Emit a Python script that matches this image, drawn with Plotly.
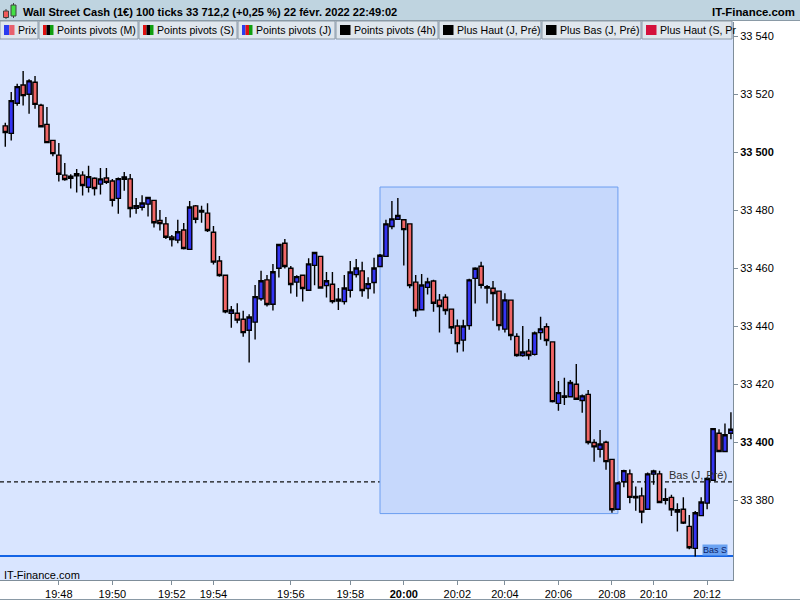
import plotly.graph_objects as go

# ==== candles, 100 ticks each ====
opens = [33509.1, 33506.5, 33516.9, 33523.2, 33520.0, 33524.1, 33516.2, 33509.6, 33504.1, 33499.0,
         33492.1, 33491.0, 33491.9, 33492.1, 33487.9, 33491.0, 33489.0, 33491.1, 33490.1, 33484.1,
         33490.7, 33490.8, 33480.7, 33481.0, 33482.1, 33483.4, 33476.5, 33475.3, 33470.8, 33469.7,
         33473.2, 33466.5, 33481.5, 33479.4, 33479.0, 33472.4, 33462.5, 33457.6, 33444.5, 33444.5,
         33442.4, 33438.6, 33441.4, 33449.5, 33456.0, 33447.6, 33460.0, 33468.6, 33460.0, 33455.2,
         33457.6, 33452.4, 33461.0, 33464.1, 33454.0, 33454.5, 33448.7, 33448.5, 33452.4, 33457.8,
         33459.1, 33453.0, 33455.1, 33460.6, 33464.1, 33474.4, 33476.9, 33476.7, 33475.3, 33455.2,
         33445.7, 33453.4, 33455.6, 33449.0, 33450.0, 33445.9, 33440.1, 33435.2, 33440.2, 33456.5,
         33460.7, 33453.6, 33453.1, 33452.1, 33439.0, 33449.0, 33436.5, 33429.9, 33431.4, 33430.3,
         33437.8, 33439.8, 33434.6, 33413.4, 33415.5, 33415.7, 33420.0, 33414.4, 33416.5, 33399.9,
         33397.6, 33400.0, 33394.1, 33376.9, 33386.4, 33389.1, 33381.3, 33381.5, 33376.9, 33389.0,
         33389.1, 33380.0, 33381.0, 33375.9, 33376.9, 33371.0, 33363.4, 33374.7, 33379.0, 33386.9,
         33403.1, 33396.8, 33403.1]
highs = [33510.2, 33520.8, 33523.6, 33528.0, 33525.2, 33526.3, 33516.7, 33515.6, 33504.2, 33503.2,
         33496.3, 33492.4, 33494.2, 33493.4, 33495.3, 33491.4, 33494.6, 33494.6, 33490.8, 33491.3,
         33493.2, 33492.5, 33484.2, 33485.2, 33484.6, 33483.4, 33480.1, 33477.7, 33471.5, 33476.7,
         33475.6, 33483.2, 33481.8, 33481.5, 33482.4, 33474.6, 33464.2, 33457.6, 33447.0, 33447.9,
         33445.3, 33444.1, 33454.2, 33459.1, 33457.7, 33461.5, 33468.4, 33470.1, 33460.8, 33457.6,
         33457.8, 33463.4, 33465.6, 33464.2, 33458.7, 33458.7, 33453.2, 33457.7, 33462.5, 33463.2,
         33462.2, 33456.9, 33463.6, 33464.9, 33476.7, 33483.2, 33484.2, 33476.9, 33475.3, 33457.7,
         33458.0, 33456.7, 33456.0, 33451.1, 33451.0, 33445.9, 33442.3, 33442.2, 33456.4, 33460.3,
         33462.2, 33454.2, 33455.6, 33452.1, 33451.4, 33449.0, 33437.6, 33440.1, 33435.6, 33438.2,
         33443.3, 33441.0, 33434.6, 33421.1, 33422.2, 33421.5, 33427.0, 33416.5, 33418.0, 33401.0,
         33404.2, 33400.5, 33394.1, 33386.3, 33390.5, 33390.6, 33384.7, 33384.4, 33389.6, 33390.5,
         33390.2, 33384.1, 33381.9, 33379.0, 33381.0, 33374.9, 33376.3, 33381.0, 33387.9, 33404.9,
         33404.5, 33406.5, 33410.3]
lows = [33501.9, 33504.0, 33516.0, 33516.1, 33513.3, 33515.0, 33508.5, 33503.1, 33498.6, 33489.9,
        33490.2, 33487.5, 33486.1, 33485.1, 33486.1, 33485.1, 33485.4, 33489.0, 33481.3, 33478.8,
        33486.7, 33477.5, 33478.8, 33479.9, 33477.8, 33474.0, 33473.0, 33470.1, 33467.5, 33468.6,
        33466.5, 33466.3, 33475.5, 33475.7, 33472.5, 33461.3, 33457.1, 33444.5, 33439.5, 33441.0,
        33436.4, 33427.5, 33435.4, 33448.8, 33446.8, 33445.4, 33456.8, 33459.9, 33451.3, 33450.2,
        33448.5, 33452.3, 33454.1, 33452.9, 33449.9, 33447.8, 33445.6, 33447.5, 33449.9, 33456.8,
        33450.2, 33449.5, 33451.3, 33460.6, 33464.0, 33473.4, 33476.9, 33460.9, 33453.1, 33443.3,
        33445.7, 33450.9, 33445.0, 33437.8, 33444.0, 33437.3, 33430.9, 33431.3, 33438.8, 33447.8,
        33453.0, 33447.8, 33441.9, 33438.5, 33437.8, 33435.2, 33429.5, 33429.5, 33428.4, 33429.9,
        33435.3, 33433.3, 33413.7, 33410.9, 33412.8, 33415.5, 33414.6, 33410.2, 33399.2, 33393.3,
        33394.7, 33390.5, 33375.7, 33376.9, 33384.5, 33379.0, 33376.4, 33372.1, 33376.9, 33385.3,
        33379.0, 33378.5, 33374.6, 33369.2, 33371.8, 33363.1, 33360.6, 33374.7, 33376.9, 33386.9,
        33396.8, 33396.8, 33401.0]
closes = [33506.8, 33517.8, 33522.6, 33519.5, 33524.6, 33516.5, 33508.8, 33503.3, 33499.5, 33492.4,
          33490.6, 33491.7, 33492.6, 33488.5, 33491.6, 33487.5, 33490.8, 33489.6, 33483.4, 33490.9,
          33491.5, 33480.6, 33481.6, 33482.5, 33484.4, 33475.7, 33475.4, 33470.7, 33469.9, 33472.6,
          33466.8, 33481.1, 33476.9, 33479.9, 33473.0, 33462.1, 33457.5, 33445.0, 33445.6, 33442.1,
          33437.8, 33443.2, 33450.2, 33455.7, 33447.5, 33458.8, 33468.2, 33460.6, 33454.4, 33457.1,
          33453.0, 33461.5, 33465.4, 33453.2, 33455.7, 33448.5, 33449.3, 33453.2, 33458.7, 33460.1,
          33452.3, 33454.7, 33460.1, 33464.5, 33475.3, 33477.0, 33478.2, 33473.3, 33454.0, 33445.4,
          33454.2, 33455.3, 33447.9, 33446.8, 33445.4, 33439.5, 33434.0, 33440.1, 33456.0, 33460.0,
          33454.1, 33453.2, 33451.3, 33440.2, 33449.1, 33436.8, 33429.9, 33431.1, 33429.9, 33437.7,
          33439.1, 33435.1, 33414.0, 33417.1, 33416.0, 33420.6, 33414.8, 33416.0, 33399.9, 33398.4,
          33399.4, 33393.3, 33376.7, 33386.0, 33390.2, 33381.0, 33380.8, 33375.9, 33389.1, 33390.1,
          33379.2, 33380.5, 33376.7, 33376.7, 33372.1, 33363.6, 33375.7, 33379.4, 33387.5, 33404.7,
          33396.8, 33402.6, 33404.5]
candle_idx = list(range(len(opens)))

# time labels sit on the candle where the minute starts
time_idx = [9, 18, 28, 35, 48, 58, 67, 76, 84, 93, 102, 109, 118]
time_text = ['19:48', '19:50', '19:52', '19:54', '19:56', '19:58', '<b>20:00</b>',
             '20:02', '20:04', '20:06', '20:08', '20:10', '20:12']
price_ticks = [33380, 33400, 33420, 33440, 33460, 33480, 33500, 33520, 33540]
price_text = ['<b>%d %03d</b>' % (p // 1000, p % 1000) if p % 100 == 0 else '%d %03d' % (p // 1000, p % 1000)
              for p in price_ticks]

bas_j_pre = 33386.3
bas_s = 33360.8
zone_x = [63, 103]
zone_y = [33375.4, 33488.0]

title = 'Wall Street Cash (1€) 100 ticks 33 712,2 (+0,25 %) 22 févr. 2022 22:49:02'
tab_labels = ['Prix', 'Points pivots (M)', 'Points pivots (S)', 'Points pivots (J)',
              'Points pivots (4h)', 'Plus Haut (J, Pré)', 'Plus Bas (J, Pré)', 'Plus Haut (S, Pr']
tab_icons = [['#2a3cf0', '#e8606c'], ['#e01010', '#000000', '#10a010'], ['#e01010', '#000000', '#10a010'],
             ['#2a3cf0', '#e01010', '#10a010'], ['#000000'], ['#000000'], ['#000000'], ['#d4103c']]
tab_edges = [0, 39, 139, 238, 336, 439, 542, 642, 733]

# ==== page geometry (pixels -> paper) ====
W, H = 800, 600
ML, MR, MT, MB = 0, 67, 22, 20
PW, PH = W - ML - MR, H - MT - MB
FONT = 'Liberation Sans'


def px(x):
    return (x - ML) / PW


def py(y):
    return (H - MB - y) / PH


fig = go.Figure()
fig.add_trace(go.Candlestick(
    x=candle_idx, open=opens, high=highs, low=lows, close=closes,
    increasing=dict(fillcolor='#3434f2', line=dict(color='black', width=1.4)),
    decreasing=dict(fillcolor='#f06666', line=dict(color='black', width=1.4)),
    whiskerwidth=0, hoverinfo='skip', showlegend=False))

shapes = []
# selection zone, previous-day low, weekly low
shapes.append(dict(type='rect', xref='x', yref='y', x0=zone_x[0], x1=zone_x[1], y0=zone_y[0], y1=zone_y[1],
                   fillcolor='#c6d8fc', line=dict(color='#6c9ef0', width=1), layer='below'))
shapes.append(dict(type='line', xref='paper', yref='y', x0=0, x1=1, y0=bas_j_pre, y1=bas_j_pre,
                   line=dict(color='#101010', width=1.2, dash='4px,3px'), layer='below'))
shapes.append(dict(type='line', xref='paper', yref='y', x0=0, x1=1, y0=bas_s, y1=bas_s,
                   line=dict(color='#1464e6', width=2), layer='below'))

# header bar
shapes.append(dict(type='rect', xref='paper', yref='paper', x0=px(0), x1=px(W), y0=py(0), y1=py(20.5),
                   fillcolor='#bfd4e0', line=dict(width=0), layer='above'))
shapes.append(dict(type='line', xref='paper', yref='paper', x0=px(0), x1=px(W), y0=py(20.5), y1=py(20.5),
                   line=dict(color='#8a9aa6', width=1), layer='above'))
# header candle icon
shapes.append(dict(type='line', xref='paper', yref='paper', x0=px(6), x1=px(6), y0=py(9), y1=py(19),
                   line=dict(color='#404040', width=1), layer='above'))
shapes.append(dict(type='rect', xref='paper', yref='paper', x0=px(3.5), x1=px(8.5), y0=py(11), y1=py(17.5),
                   fillcolor='#f05a5a', line=dict(color='#404040', width=1), layer='above'))
shapes.append(dict(type='line', xref='paper', yref='paper', x0=px(13.5), x1=px(13.5), y0=py(3), y1=py(18),
                   line=dict(color='#404040', width=1), layer='above'))
shapes.append(dict(type='rect', xref='paper', yref='paper', x0=px(11), x1=px(16), y0=py(5), y1=py(16),
                   fillcolor='#44e044', line=dict(color='#404040', width=1), layer='above'))

# legend tabs
for i, lab in enumerate(tab_labels):
    x0, x1 = tab_edges[i], tab_edges[i + 1] - 1
    shapes.append(dict(type='rect', xref='paper', yref='paper', x0=px(x0), x1=px(x1), y0=py(21), y1=py(39),
                       fillcolor='#dfe6ed', line=dict(color='#8c9aa6', width=1), layer='above'))
    cols = tab_icons[i]
    w = 10.5 / len(cols)
    for k, c in enumerate(cols):
        shapes.append(dict(type='rect', xref='paper', yref='paper',
                           x0=px(x0 + 4 + k * w), x1=px(x0 + 4 + (k + 1) * w), y0=py(25), y1=py(35),
                           fillcolor=c, line=dict(width=0), layer='above'))

# bottom frame line
shapes.append(dict(type='line', xref='paper', yref='paper', x0=px(0), x1=px(W), y0=py(599.5), y1=py(599.5),
                   line=dict(color='#8a9aa6', width=1), layer='above'))

annotations = []
annotations.append(dict(text='<b>' + title + '</b>', xref='paper', yref='paper', x=px(21), y=py(12),
                        xanchor='left', yanchor='middle', showarrow=False,
                        font=dict(family=FONT, size=11.1, color='black')))
annotations.append(dict(text='<b>IT-Finance.com</b>', xref='paper', yref='paper', x=px(797), y=py(12),
                        xanchor='right', yanchor='middle', showarrow=False,
                        font=dict(family=FONT, size=11.4, color='black')))
for i, lab in enumerate(tab_labels):
    annotations.append(dict(text=lab, xref='paper', yref='paper', x=px(tab_edges[i] + 16), y=py(30.5),
                            xanchor='left', yanchor='middle', showarrow=False,
                            font=dict(family=FONT, size=10.6, color='black')))
annotations.append(dict(text='Bas (J, Pré)', xref='paper', yref='paper', x=px(729), y=py(475),
                        xanchor='right', yanchor='middle', showarrow=False,
                        font=dict(family=FONT, size=11, color='#303030')))
annotations.append(dict(text='Bas S', xref='paper', yref='paper', x=px(728), y=py(549.5),
                        xanchor='right', yanchor='middle', showarrow=False, bgcolor='#6aa2f2',
                        borderpad=0, font=dict(family=FONT, size=9, color='#0c1e6a')))
annotations.append(dict(text='IT-Finance.com', xref='paper', yref='paper', x=px(2), y=py(575),
                        xanchor='left', yanchor='middle', showarrow=False,
                        font=dict(family=FONT, size=11, color='black')))

fig.update_layout(
    width=W, height=H,
    margin=dict(l=ML, r=MR, t=MT, b=MB, pad=0),
    paper_bgcolor='white', plot_bgcolor='#d9e5ff',
    font=dict(family=FONT, size=11, color='black'),
    boxgap=0.2, boxgroupgap=0.1,
    showlegend=False,
    shapes=shapes, annotations=annotations,
    xaxis=dict(range=[-0.89, 122.35], tickmode='array', tickvals=time_idx, ticktext=time_text,
               ticks='outside', ticklen=4, tickcolor='#7f8e9a', showgrid=False, zeroline=False,
               showline=True, linecolor='#7f8e9a', linewidth=1, rangeslider=dict(visible=False),
               tickfont=dict(family=FONT, size=11, color='black')),
    yaxis=dict(side='right', range=[33352.5, 33544.9], tickmode='array', tickvals=price_ticks,
               ticktext=price_text, ticks='outside', ticklen=4, tickcolor='#7f8e9a', showgrid=False,
               zeroline=False, showline=True, linecolor='#7f8e9a', linewidth=1, mirror=True,
               tickfont=dict(family=FONT, size=11, color='black')),
)

# the page gets the browser's default 8px body margin; drop it so the chart sits at 0,0
fig.write_html('out.html', config={'displayModeBar': False},
               post_script="document.body.style.margin='0px';")
